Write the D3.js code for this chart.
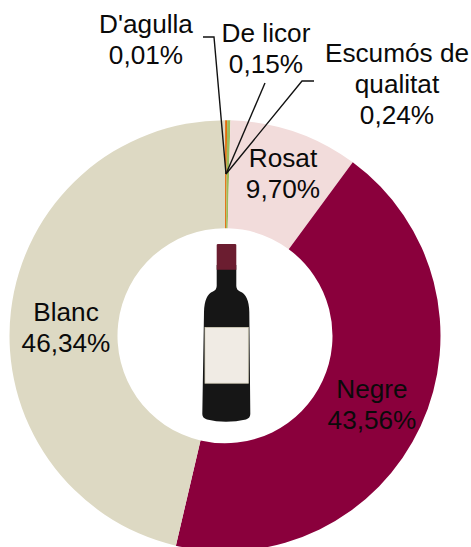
<!DOCTYPE html>
<html><head><meta charset="utf-8">
<script src="https://cdn.jsdelivr.net/npm/d3@7"></script>
<style>html,body{margin:0;padding:0;background:#fff}svg{display:block}text{font-family:"Liberation Sans",Arial,sans-serif;font-size:26.2px;fill:#0a0a0a}</style>
</head><body><svg id="c" width="471" height="547"></svg>
<script>
const categories = ["D'agulla","De licor","Escumós de qualitat","Rosat","Negre","Blanc"];
const values = [0.01,0.15,0.24,9.70,43.56,46.34];
const colors = ["#4f81bd","#e36c0a","#9bbb59","#f2dcdb","#8a003c","#ddd9c3"];
const labelLines = [["D'agulla","0,01%"],["De licor","0,15%"],["Escumós de","qualitat","0,24%"],["Rosat","9,70%"],["Negre","43,56%"],["Blanc","46,34%"]];
const labelPos = [[146,33],[266,42],[397,62],[283,167],[372,398],[66,321]];
const leaders = [[[203,37],[214,37],[226,174]],[[265,83],[226,174]],[[314,81],[302,81],[226,174]]];
const W=471,H=547,cx=225,cy=335.8,R=215.5,r0=107.5;
const svg=d3.select("#c");
const g=svg.append("g").attr("transform",`translate(${cx},${cy})`);
const pie=d3.pie().sort(null).value(d=>d);
const arc=d3.arc().innerRadius(r0).outerRadius(R);
g.selectAll("path").data(pie(values)).join("path").attr("d",arc).attr("fill",(d,i)=>colors[i]);
const line=d3.line();
svg.selectAll("path.l").data(leaders).join("path").attr("class","l").attr("d",line).attr("fill","none").attr("stroke","#111").attr("stroke-width",1.4);
const t=svg.selectAll("text.lab").data(labelLines).join("text").attr("class","lab").attr("text-anchor","middle")
 .attr("x",(d,i)=>labelPos[i][0]).attr("y",(d,i)=>labelPos[i][1]);
t.selectAll("tspan").data((d,i)=>d.map(s=>({s,x:labelPos[i][0]}))).join("tspan").attr("x",d=>d.x).attr("dy",(d,i)=>i?31:0).text(d=>d.s);
const b=svg.append("g");
b.append("path").attr("fill","#161616").attr("d","M216.7 265 L236.3 265 L236.3 286 Q236.5 290 240 291.5 Q249 295 249.3 312 L250.3 414 Q250.3 418 246 419.5 Q236 421.8 226 421.8 Q216 421.8 207 419.5 Q202.3 418 202.3 414 L204 312 Q204.3 295 213 291.5 Q216.5 290 216.7 286 Z");
b.append("path").attr("fill","#6b1d30").attr("d","M216.7 245 Q216.7 244 218 244 L235 244 Q236.3 244 236.3 245 L236.3 269.7 L216.7 269.7 Z");
b.append("rect").attr("x",205).attr("y",327.5).attr("width",43.3).attr("height",55.7).attr("fill","#f0ebe4").attr("stroke","#d8d3bd").attr("stroke-width",0.8);
</script></body></html>
